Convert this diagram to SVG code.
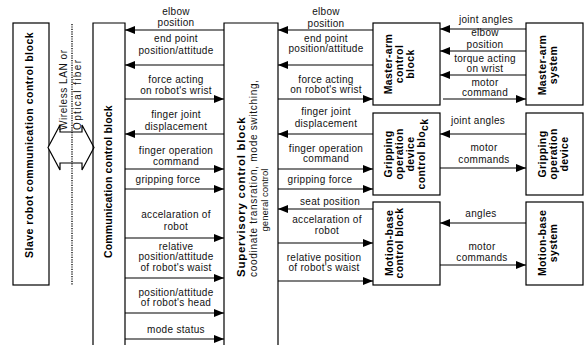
<svg xmlns="http://www.w3.org/2000/svg" width="584" height="345" viewBox="0 0 584 345">
<style>
.box{fill:#fff;stroke:#000;stroke-width:1.2}
.open{fill:none;stroke:#000;stroke-width:1.2}
.c line{stroke:#000;stroke-width:1.2;marker-end:url(#ah)}
.lb{font-family:"Liberation Sans",Arial,sans-serif;font-size:10px;letter-spacing:0.3px;text-anchor:middle;fill:#111}
.bt{font-family:"Liberation Sans",Arial,sans-serif;font-size:10.5px;font-weight:bold;letter-spacing:0.4px;text-anchor:middle;fill:#000}
.rt{font-family:"Liberation Sans",Arial,sans-serif;font-size:10px;fill:#111}
</style>
<defs>
<marker id="ah" markerUnits="userSpaceOnUse" markerWidth="10" markerHeight="8" refX="10" refY="4" orient="auto">
<path d="M0,0 L10,4 L0,8 z" fill="#000"/>
</marker>
</defs>

<g id="slave">
<rect class="box" x="13" y="23" width="36" height="262"/>
<text class="bt" transform="translate(33,145) rotate(-90)" textLength="226" lengthAdjust="spacing">Slave robot communication control block</text>
</g>

<g id="link">
<polygon points="48,147.5 60,125 60,132 82,132 82,125 94,147.5 82,170 82,163 60,163 60,170" fill="#fff" stroke="#000" stroke-width="1.2"/>
<line x1="72" y1="24" x2="72" y2="285" stroke="#000" stroke-width="1.3" stroke-dasharray="1.2 1.2"/>
<text class="rt" transform="translate(66.5,130) rotate(-90)" textLength="80" lengthAdjust="spacing">Wireless LAN or</text>
<text class="rt" transform="translate(80.5,130) rotate(-90)" textLength="70" lengthAdjust="spacing">Optical fiber</text>
</g>

<g id="comm">
<path class="open" d="M93,345 V23 H125 V345"/>
<text class="bt" transform="translate(112,181.5) rotate(-90)" textLength="153" lengthAdjust="spacing">Communication control block</text>
</g>

<g id="supervisory">
<path class="open" d="M224,345 V23 H278 V345"/>
<text class="bt" transform="translate(244.5,277) rotate(-90)" style="text-anchor:start;font-size:11.5px" textLength="160" lengthAdjust="spacing">Supervisory control block</text>
<text class="rt" transform="translate(256.5,277) rotate(-90)" textLength="197" lengthAdjust="spacing">coodinate transration, mode switching,</text>
<text class="rt" transform="translate(267.5,200) rotate(-90)" style="text-anchor:middle;font-size:9.5px">general control</text>
</g>

<g id="master-arm-control">
<rect class="box" x="373" y="23" width="67" height="82"/>
<text class="bt" transform="translate(391.7,64) rotate(-90)">Master-arm</text>
<text class="bt" transform="translate(402.7,64) rotate(-90)">control</text>
<text class="bt" transform="translate(413.7,64) rotate(-90)">block</text>
</g>

<g id="gripping-control">
<rect class="box" x="373" y="113" width="67" height="82"/>
<text class="bt" transform="translate(391.7,154) rotate(-90)">Gripping</text>
<text class="bt" transform="translate(402.7,154) rotate(-90)">operation</text>
<text class="bt" transform="translate(413.7,154) rotate(-90)">device</text>
<text class="bt" transform="translate(424.7,154) rotate(-90)">control blo<tspan dy="3">ck</tspan></text>
</g>

<g id="motion-control">
<rect class="box" x="373" y="202" width="67" height="83"/>
<text class="bt" transform="translate(392.7,243) rotate(-90)">Motion-base</text>
<text class="bt" transform="translate(403.2,243) rotate(-90)">control block</text>
</g>

<g id="master-arm-system">
<rect class="box" x="526" y="23" width="57" height="82"/>
<text class="bt" transform="translate(545.5,65) rotate(-90)">Master-arm</text>
<text class="bt" transform="translate(556.5,65) rotate(-90)">system</text>
</g>

<g id="gripping-device">
<rect class="box" x="526" y="113" width="57" height="82"/>
<text class="bt" transform="translate(545.5,154) rotate(-90)">Gripping</text>
<text class="bt" transform="translate(556.5,154) rotate(-90)">operation</text>
<text class="bt" transform="translate(567.5,154) rotate(-90)">device</text>
</g>

<g id="motion-system">
<rect class="box" x="526" y="202" width="57" height="83"/>
<text class="bt" transform="translate(545.5,243) rotate(-90)">Motion-base</text>
<text class="bt" transform="translate(556.5,243) rotate(-90)">system</text>
</g>

<g id="connectors" class="c">
<line x1="224" y1="30" x2="125" y2="30"/>
<line x1="224" y1="65" x2="125" y2="65"/>
<line x1="125" y1="99" x2="224" y2="99"/>
<line x1="224" y1="134" x2="125" y2="134"/>
<line x1="125" y1="169" x2="224" y2="169"/>
<line x1="125" y1="189" x2="224" y2="189"/>
<line x1="125" y1="238" x2="224" y2="238"/>
<line x1="125" y1="278" x2="224" y2="278"/>
<line x1="125" y1="313" x2="224" y2="313"/>
<line x1="125" y1="339" x2="224" y2="339"/>

<line x1="373" y1="30" x2="278" y2="30"/>
<line x1="373" y1="65" x2="278" y2="65"/>
<line x1="278" y1="99" x2="373" y2="99"/>
<line x1="373" y1="134" x2="278" y2="134"/>
<line x1="278" y1="169" x2="373" y2="169"/>
<line x1="278" y1="189" x2="373" y2="189"/>
<line x1="373" y1="209" x2="278" y2="209"/>
<line x1="278" y1="243" x2="373" y2="243"/>
<line x1="278" y1="281" x2="373" y2="281"/>

<line x1="526" y1="29" x2="440" y2="29"/>
<line x1="526" y1="51" x2="440" y2="51"/>
<line x1="526" y1="75" x2="440" y2="75"/>
<line x1="443" y1="99" x2="526" y2="99"/>
<line x1="526" y1="134" x2="440" y2="134"/>
<line x1="440" y1="168" x2="526" y2="168"/>
<line x1="526" y1="223" x2="440" y2="223"/>
<line x1="440" y1="265" x2="526" y2="265"/>
</g>

<g id="labels">
<text class="lb" x="176" y="14.5">elbow</text>
<text class="lb" x="176" y="25.5">position</text>
<text class="lb" x="176" y="41.5">end point</text>
<text class="lb" x="176" y="53.5">position/attitude</text>
<text class="lb" x="176" y="82.5">force acting</text>
<text class="lb" x="176" y="93.5">on robot's wrist</text>
<text class="lb" x="176" y="117.5">finger joint</text>
<text class="lb" x="176" y="129.5">displacement</text>
<text class="lb" x="176" y="153.5">finger operation</text>
<text class="lb" x="176" y="164.5">command</text>
<text class="lb" x="168" y="182.5">gripping force</text>
<text class="lb" x="176" y="217.5">accelaration of</text>
<text class="lb" x="176" y="229.5">robot</text>
<text class="lb" x="176" y="249.5">relative</text>
<text class="lb" x="176" y="259.5">position/attitude</text>
<text class="lb" x="176" y="270.5">of robot's waist</text>
<text class="lb" x="176" y="295.5">position/attitude</text>
<text class="lb" x="176" y="305.5">of robot's head</text>
<text class="lb" x="176" y="332.5">mode status</text>

<text class="lb" x="326" y="14.5">elbow</text>
<text class="lb" x="326" y="26.5">position</text>
<text class="lb" x="326" y="41.5">end point</text>
<text class="lb" x="326" y="51.5">position/attitude</text>
<text class="lb" x="326" y="82.5">force acting</text>
<text class="lb" x="326" y="92.5">on robot's wrist</text>
<text class="lb" x="326" y="114.5">finger joint</text>
<text class="lb" x="326" y="126.5">displacement</text>
<text class="lb" x="326" y="151.5">finger operation</text>
<text class="lb" x="326" y="161.5">command</text>
<text class="lb" x="320" y="182.5">gripping force</text>
<text class="lb" x="330" y="204.5">seat position</text>
<text class="lb" x="327" y="222.5">accelaration of</text>
<text class="lb" x="327" y="233.5">robot</text>
<text class="lb" x="324" y="260.5">relative position</text>
<text class="lb" x="324" y="270.5">of robot's waist</text>

<text class="lb" x="486" y="22.5">joint angles</text>
<text class="lb" x="485" y="35.5">elbow</text>
<text class="lb" x="485" y="47.5">position</text>
<text class="lb" x="485" y="61.5">torque acting</text>
<text class="lb" x="485" y="71.5">on wrist</text>
<text class="lb" x="485" y="85.5">motor</text>
<text class="lb" x="485" y="95.5">command</text>
<text class="lb" x="478" y="123.5">joint angles</text>
<text class="lb" x="484" y="150.5">motor</text>
<text class="lb" x="484" y="162.5">commands</text>
<text class="lb" x="481" y="216.5">angles</text>
<text class="lb" x="482" y="249.5">motor</text>
<text class="lb" x="482" y="260.5">commands</text>
</g>
</svg>
